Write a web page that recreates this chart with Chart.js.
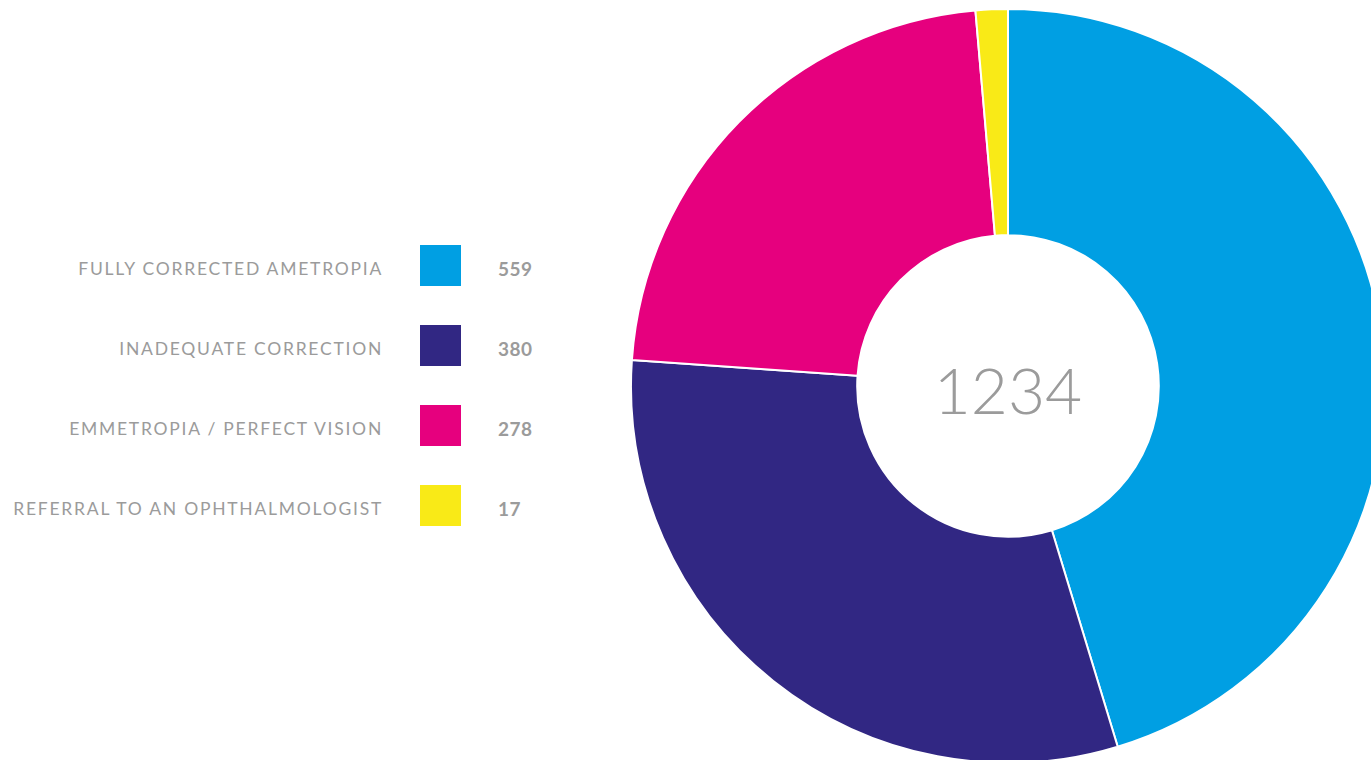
<!DOCTYPE html>
<html>
<head>
<meta charset="utf-8">
<script src="https://cdn.jsdelivr.net/npm/chart.js@4/dist/chart.umd.min.js"></script>
<style>
  html, body { margin: 0; padding: 0; background: #fff; width: 1371px; height: 760px; overflow: hidden; }
  body { position: relative; font-family: Lato, "Noto Sans", sans-serif; }
  #chartWrap { position: absolute; left: 630px; top: 8px; width: 756px; height: 756px; }
  #legend { position: absolute; left: 0; top: 245px; width: 560px; }
  .row { position: relative; height: 80px; }
  .row .lbl { position: absolute; right: 177px; top: 13px; color: #9b9b9b; font-size: 17.5px; letter-spacing: 1.75px; white-space: nowrap; }
  .row .box { position: absolute; left: 420px; top: 0; width: 41px; height: 41px; }
  .row .val { position: absolute; left: 498px; top: 12px; color: #9b9b9b; font-size: 19px; font-weight: 700; letter-spacing: 0.5px; }
  #total { position: absolute; left: 908px; top: 350px; width: 200px; text-align: center; color: #9b9b9b; font-size: 64px; font-weight: 300; line-height: 80px; }
</style>
</head>
<body>
<div id="legend"></div>
<div id="chartWrap"><canvas id="donut"></canvas></div>
<div id="total"></div>
<script>
const labels = ["FULLY CORRECTED AMETROPIA", "INADEQUATE CORRECTION", "EMMETROPIA / PERFECT VISION", "REFERRAL TO AN OPHTHALMOLOGIST"];
const values = [559, 380, 278, 17];
const colors = ["#009fe3", "#312783", "#e6007e", "#f9ea17"];

(function () {
  // legend on the left (html)
  const legend = document.getElementById("legend");
  labels.forEach(function (name, i) {
    const row = document.createElement("div");
    row.className = "row";
    row.innerHTML =
      '<span class="lbl">' + name + '</span>' +
      '<span class="box" style="background:' + colors[i] + '"></span>' +
      '<span class="val">' + values[i] + '</span>';
    legend.appendChild(row);
  });

  const total = values.reduce(function (a, b) { return a + b; }, 0);
  document.getElementById("total").textContent = total;

  const ctx = document.getElementById("donut").getContext("2d");
  new Chart(ctx, {
    type: "doughnut",
    data: {
      labels: labels,
      datasets: [
        {
          data: values,
          backgroundColor: colors,
          borderColor: "#ffffff",
          borderWidth: 2,
        },
      ],
    },
    options: {
      responsive: true,
      maintainAspectRatio: false,
      animation: false,
      cutout: "40%",
      layout: { padding: 0 },
      plugins: {
        legend: { display: false },
        tooltip: { enabled: false },
      },
    },
  });
})();
</script>
</body>
</html>
